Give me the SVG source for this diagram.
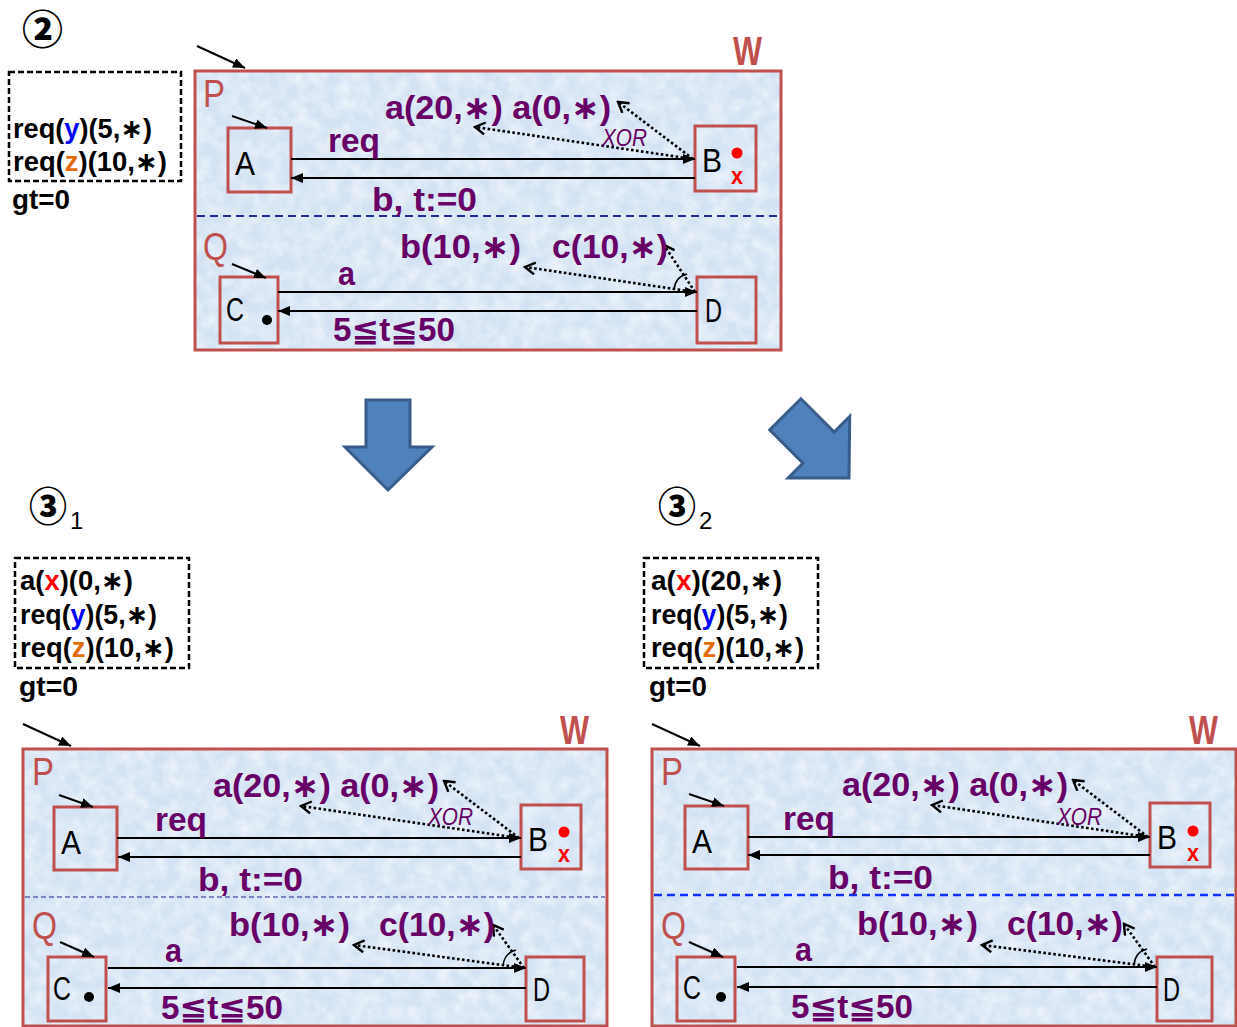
<svg xmlns="http://www.w3.org/2000/svg" width="1237" height="1027" viewBox="0 0 1237 1027">
  <defs>
    <style>
      text { font-family: "Liberation Sans", "DejaVu Sans", "Noto Sans CJK JP", sans-serif; }
      .frame { fill: #d4e3f4; stroke: none; }
      .rim { fill: none; stroke: #c0504d; stroke-width: 3; }
      .box { fill: none; stroke: #c0504d; stroke-width: 3; }
      .wl { font-size: 40px; font-weight: bold; fill: #c0504d; }
      .pl { font-size: 38px; fill: #c0504d; }
      .st { font-size: 33px; fill: #000; }
      .lbl { font-size: 33px; font-weight: bold; fill: #660066; }
      .xor { font-size: 24px; font-style: italic; fill: #660066; }
      .redx { font-size: 24px; font-weight: bold; fill: #ff0000; }
      .list { font-size: 27px; font-weight: bold; fill: #000; }
      .num { font-family: "Noto Sans CJK JP", "DejaVu Sans", sans-serif; font-size: 40px; font-weight: 900; fill: #000; }
      .sub { font-size: 24px; fill: #000; }
      .edge { stroke: #000; stroke-width: 2; fill: none; marker-end: url(#head); }
      .init { stroke: #000; stroke-width: 2; fill: none; marker-end: url(#head); }
      .dotted { stroke: #000; stroke-width: 2.6; stroke-dasharray: 2.6 2.4; fill: none; marker-end: url(#vee); }
      .arc { stroke: #000; stroke-width: 1.5; fill: none; }
      .dashbox { fill: none; stroke: #000; stroke-width: 2.5; stroke-dasharray: 6 3; }
      .div-a { stroke: #1f2a9e; stroke-width: 2; stroke-dasharray: 8 5; }
      .div-b { stroke: #22228a; stroke-width: 1.2; stroke-dasharray: 5 3; }
      .div-c { stroke: #1030ff; stroke-width: 2.5; stroke-dasharray: 8 5; }
      .block { fill: #4f81bd; stroke: #385d8a; stroke-width: 3; }
      .y { fill: #0000ff; }
      .z { fill: #e36c09; }
      .x { fill: #ff0000; }
    </style>
    <marker id="head" viewBox="0 0 12 10" refX="12" refY="5" markerWidth="12" markerHeight="10" markerUnits="userSpaceOnUse" orient="auto">
      <path d="M0,0 L12,5 L0,10 z" fill="#000"/>
    </marker>
    <marker id="vee" viewBox="0 0 14 14" refX="12" refY="7" markerWidth="14" markerHeight="14" markerUnits="userSpaceOnUse" orient="auto">
      <path d="M2,1 L12,7 L2,13" fill="none" stroke="#000" stroke-width="2.4"/>
    </marker>
    <filter id="mottle" x="0" y="0" width="1" height="1">
      <feTurbulence type="fractalNoise" baseFrequency="0.07" numOctaves="3" seed="7" result="n"/>
      <feColorMatrix in="n" type="matrix" values="0 0 0 0 1  0 0 0 0 1  0 0 0 0 1  1.1 0 0 0 -0.38"/>
    </filter>
    <polygon id="blockarrow" points="-22,-90 22,-90 22,-43 44,-43 0,0 -43,-43 -22,-43"/>
  </defs>

  <!-- state 2: queue and clock -->
  <g id="state2-info">
    <text class="num" x="22" y="44" textLength="41" lengthAdjust="spacingAndGlyphs">②</text>
    <rect class="dashbox" x="9" y="72" width="172" height="109"/>
    <text class="list" x="13" y="138" textLength="139" lengthAdjust="spacingAndGlyphs">req(<tspan class="y">y</tspan>)(5,∗)</text>
    <text class="list" x="13" y="171" textLength="154" lengthAdjust="spacingAndGlyphs">req(<tspan class="z">z</tspan>)(10,∗)</text>
    <text class="list" x="12" y="209" textLength="58" lengthAdjust="spacingAndGlyphs">gt=0</text>
  </g>

  <!-- state 2: system W -->
  <g id="top-panel" transform="translate(195,71)">
    <rect class="frame" width="586" height="279"/>
    <rect width="586" height="279" filter="url(#mottle)"/>
    <rect class="rim" width="586" height="279"/>
    <text class="wl" x="538" y="-6" textLength="29" lengthAdjust="spacingAndGlyphs">W</text>
    <line class="init" x1="2" y1="-25" x2="50" y2="-3"/>
    <text class="pl" x="8" y="36" textLength="22" lengthAdjust="spacingAndGlyphs">P</text>
    <line class="div-a" x1="2" y1="145" x2="584" y2="145"/>
    <text class="pl" x="8" y="189" textLength="25" lengthAdjust="spacingAndGlyphs">Q</text>

    <g id="top-A">
      <rect class="box" x="33" y="57" width="63" height="64"/>
      <line class="init" x1="37" y1="45" x2="72" y2="57"/>
      <text class="st" x="40" y="104" textLength="20" lengthAdjust="spacingAndGlyphs">A</text>
    </g>
    <g id="top-B">
      <rect class="box" x="500" y="55" width="61" height="65"/>
      <text class="st" x="507" y="101" textLength="20" lengthAdjust="spacingAndGlyphs">B</text>
      <circle cx="542" cy="82" r="5.5" fill="#ff0000"/>
      <text class="redx" x="536" y="113" textLength="12" lengthAdjust="spacingAndGlyphs">x</text>
    </g>
    <g id="top-C">
      <rect class="box" x="25" y="206" width="58" height="66"/>
      <line class="init" x1="37" y1="193" x2="71" y2="207"/>
      <text class="st" x="31" y="250" textLength="18" lengthAdjust="spacingAndGlyphs">C</text>
      <circle cx="72" cy="249" r="5" fill="#000"/>
    </g>
    <g id="top-D">
      <rect class="box" x="502" y="206" width="59" height="66"/>
      <text class="st" x="510" y="251" textLength="17" lengthAdjust="spacingAndGlyphs">D</text>
    </g>

    <g id="top-edges">
      <line class="edge" x1="96" y1="88" x2="500" y2="88"/>
      <line class="edge" x1="500" y1="107" x2="96" y2="107"/>
      <path class="dotted" d="M498,88 L280,56"/>
      <path class="dotted" d="M498,88 L423,31"/>
      <line class="edge" x1="83" y1="221" x2="502" y2="221"/>
      <line class="edge" x1="502" y1="240" x2="83" y2="240"/>
      <path class="dotted" d="M500,221 L330,196"/>
      <path class="dotted" d="M500,221 L469,174"/>
      <path class="arc" d="M479,219 Q480,206 492,203"/>
      <text class="lbl" x="133" y="81" textLength="52" lengthAdjust="spacingAndGlyphs">req</text>
      <text class="lbl" x="190" y="48" textLength="226" lengthAdjust="spacingAndGlyphs">a(20,∗) a(0,∗)</text>
      <text class="xor" x="407" y="75" textLength="45" lengthAdjust="spacingAndGlyphs">XOR</text>
      <text class="lbl" x="177" y="140" textLength="105" lengthAdjust="spacingAndGlyphs">b, t:=0</text>
      <text class="lbl" x="143" y="214" textLength="17" lengthAdjust="spacingAndGlyphs">a</text>
      <text class="lbl" x="205" y="187" textLength="121" lengthAdjust="spacingAndGlyphs">b(10,∗)</text>
      <text class="lbl" x="357" y="187" textLength="116" lengthAdjust="spacingAndGlyphs">c(10,∗)</text>
      <text class="lbl" x="138" y="270" textLength="122" lengthAdjust="spacingAndGlyphs">5≦t≦50</text>
    </g>
  </g>

  <!-- transitions between states -->
  <g id="transitions">
    <use href="#blockarrow" class="block" transform="translate(388,490)"/>
    <use href="#blockarrow" class="block" transform="translate(849,478) rotate(-45)"/>
  </g>

  <!-- state 3-1: queue and clock -->
  <g id="state31-info">
    <text class="num" x="29" y="521" textLength="38" lengthAdjust="spacingAndGlyphs">③</text>
    <text class="sub" x="70" y="529">1</text>
    <rect class="dashbox" x="15" y="558" width="174" height="110"/>
    <text class="list" x="20" y="590" textLength="113" lengthAdjust="spacingAndGlyphs">a(<tspan class="x">x</tspan>)(0,∗)</text>
    <text class="list" x="20" y="624" textLength="137" lengthAdjust="spacingAndGlyphs">req(<tspan class="y">y</tspan>)(5,∗)</text>
    <text class="list" x="20" y="657" textLength="154" lengthAdjust="spacingAndGlyphs">req(<tspan class="z">z</tspan>)(10,∗)</text>
    <text class="list" x="19" y="696" textLength="59" lengthAdjust="spacingAndGlyphs">gt=0</text>
  </g>

  <!-- state 3-1: system W -->
  <g id="left-panel" transform="translate(23,749)">
    <rect class="frame" width="584" height="277"/>
    <rect width="584" height="277" filter="url(#mottle)"/>
    <rect class="rim" width="584" height="277"/>
    <text class="wl" x="537" y="-5" textLength="29" lengthAdjust="spacingAndGlyphs">W</text>
    <line class="init" x1="0" y1="-25" x2="48" y2="-3"/>
    <text class="pl" x="9" y="36" textLength="22" lengthAdjust="spacingAndGlyphs">P</text>
    <line class="div-b" x1="2" y1="148" x2="582" y2="148"/>
    <text class="pl" x="9" y="190" textLength="25" lengthAdjust="spacingAndGlyphs">Q</text>

    <g id="left-A">
      <rect class="box" x="31" y="58" width="63" height="63"/>
      <line class="init" x1="36" y1="46" x2="70" y2="58"/>
      <text class="st" x="38" y="105" textLength="20" lengthAdjust="spacingAndGlyphs">A</text>
    </g>
    <g id="left-B">
      <rect class="box" x="498" y="56" width="60" height="64"/>
      <text class="st" x="505" y="102" textLength="20" lengthAdjust="spacingAndGlyphs">B</text>
      <circle cx="541" cy="83" r="5.5" fill="#ff0000"/>
      <text class="redx" x="535" y="113" textLength="12" lengthAdjust="spacingAndGlyphs">x</text>
    </g>
    <g id="left-C">
      <rect class="box" x="25" y="208" width="58" height="64"/>
      <line class="init" x1="37" y1="193" x2="71" y2="208"/>
      <text class="st" x="30" y="251" textLength="18" lengthAdjust="spacingAndGlyphs">C</text>
      <circle cx="66" cy="248" r="5" fill="#000"/>
    </g>
    <g id="left-D">
      <rect class="box" x="503" y="208" width="58" height="64"/>
      <text class="st" x="510" y="252" textLength="17" lengthAdjust="spacingAndGlyphs">D</text>
    </g>

    <g id="left-edges">
      <line class="edge" x1="94" y1="89" x2="498" y2="89"/>
      <line class="edge" x1="498" y1="108" x2="95" y2="108"/>
      <path class="dotted" d="M496,89 L278,57"/>
      <path class="dotted" d="M496,89 L421,32"/>
      <line class="edge" x1="85" y1="219" x2="503" y2="219"/>
      <line class="edge" x1="503" y1="239" x2="85" y2="239"/>
      <path class="dotted" d="M501,219 L331,196"/>
      <path class="dotted" d="M501,219 L470,176"/>
      <path class="arc" d="M480,217 Q481,204 493,201"/>
      <text class="lbl" x="132" y="82" textLength="52" lengthAdjust="spacingAndGlyphs">req</text>
      <text class="lbl" x="190" y="48" textLength="226" lengthAdjust="spacingAndGlyphs">a(20,∗) a(0,∗)</text>
      <text class="xor" x="405" y="76" textLength="45" lengthAdjust="spacingAndGlyphs">XOR</text>
      <text class="lbl" x="175" y="142" textLength="105" lengthAdjust="spacingAndGlyphs">b, t:=0</text>
      <text class="lbl" x="142" y="213" textLength="17" lengthAdjust="spacingAndGlyphs">a</text>
      <text class="lbl" x="206" y="187" textLength="121" lengthAdjust="spacingAndGlyphs">b(10,∗)</text>
      <text class="lbl" x="356" y="187" textLength="116" lengthAdjust="spacingAndGlyphs">c(10,∗)</text>
      <text class="lbl" x="138" y="270" textLength="122" lengthAdjust="spacingAndGlyphs">5≦t≦50</text>
    </g>
  </g>

  <!-- state 3-2: queue and clock -->
  <g id="state32-info">
    <text class="num" x="658" y="521" textLength="38" lengthAdjust="spacingAndGlyphs">③</text>
    <text class="sub" x="699" y="529">2</text>
    <rect class="dashbox" x="644" y="558" width="174" height="110"/>
    <text class="list" x="651" y="590" textLength="131" lengthAdjust="spacingAndGlyphs">a(<tspan class="x">x</tspan>)(20,∗)</text>
    <text class="list" x="651" y="624" textLength="137" lengthAdjust="spacingAndGlyphs">req(<tspan class="y">y</tspan>)(5,∗)</text>
    <text class="list" x="651" y="657" textLength="153" lengthAdjust="spacingAndGlyphs">req(<tspan class="z">z</tspan>)(10,∗)</text>
    <text class="list" x="649" y="696" textLength="58" lengthAdjust="spacingAndGlyphs">gt=0</text>
  </g>

  <!-- state 3-2: system W -->
  <g id="right-panel" transform="translate(652,749)">
    <rect class="frame" width="584" height="277"/>
    <rect width="584" height="277" filter="url(#mottle)"/>
    <rect class="rim" width="584" height="277"/>
    <text class="wl" x="537" y="-5" textLength="29" lengthAdjust="spacingAndGlyphs">W</text>
    <line class="init" x1="0" y1="-25" x2="48" y2="-3"/>
    <text class="pl" x="9" y="36" textLength="22" lengthAdjust="spacingAndGlyphs">P</text>
    <line class="div-c" x1="2" y1="146" x2="582" y2="146"/>
    <text class="pl" x="9" y="190" textLength="25" lengthAdjust="spacingAndGlyphs">Q</text>

    <g id="right-A">
      <rect class="box" x="33" y="57" width="63" height="63"/>
      <line class="init" x1="37" y1="45" x2="72" y2="57"/>
      <text class="st" x="40" y="104" textLength="20" lengthAdjust="spacingAndGlyphs">A</text>
    </g>
    <g id="right-B">
      <rect class="box" x="498" y="54" width="60" height="64"/>
      <text class="st" x="505" y="100" textLength="20" lengthAdjust="spacingAndGlyphs">B</text>
      <circle cx="541" cy="82" r="5.5" fill="#ff0000"/>
      <text class="redx" x="535" y="112" textLength="12" lengthAdjust="spacingAndGlyphs">x</text>
    </g>
    <g id="right-C">
      <rect class="box" x="25" y="208" width="58" height="64"/>
      <line class="init" x1="37" y1="193" x2="71" y2="208"/>
      <text class="st" x="31" y="250" textLength="18" lengthAdjust="spacingAndGlyphs">C</text>
      <circle cx="69" cy="248" r="5" fill="#000"/>
    </g>
    <g id="right-D">
      <rect class="box" x="505" y="208" width="55" height="64"/>
      <text class="st" x="511" y="252" textLength="17" lengthAdjust="spacingAndGlyphs">D</text>
    </g>

    <g id="right-edges">
      <line class="edge" x1="96" y1="88" x2="498" y2="88"/>
      <line class="edge" x1="498" y1="106" x2="96" y2="106"/>
      <path class="dotted" d="M496,88 L280,56"/>
      <path class="dotted" d="M496,88 L421,31"/>
      <line class="edge" x1="85" y1="218" x2="505" y2="218"/>
      <line class="edge" x1="505" y1="238" x2="85" y2="238"/>
      <path class="dotted" d="M503,218 L330,196"/>
      <path class="dotted" d="M503,218 L472,175"/>
      <path class="arc" d="M482,216 Q483,203 495,200"/>
      <text class="lbl" x="131" y="81" textLength="52" lengthAdjust="spacingAndGlyphs">req</text>
      <text class="lbl" x="190" y="47" textLength="226" lengthAdjust="spacingAndGlyphs">a(20,∗) a(0,∗)</text>
      <text class="xor" x="405" y="76" textLength="45" lengthAdjust="spacingAndGlyphs">XOR</text>
      <text class="lbl" x="176" y="140" textLength="105" lengthAdjust="spacingAndGlyphs">b, t:=0</text>
      <text class="lbl" x="143" y="212" textLength="17" lengthAdjust="spacingAndGlyphs">a</text>
      <text class="lbl" x="205" y="186" textLength="121" lengthAdjust="spacingAndGlyphs">b(10,∗)</text>
      <text class="lbl" x="355" y="186" textLength="116" lengthAdjust="spacingAndGlyphs">c(10,∗)</text>
      <text class="lbl" x="139" y="269" textLength="122" lengthAdjust="spacingAndGlyphs">5≦t≦50</text>
    </g>
  </g>
</svg>
